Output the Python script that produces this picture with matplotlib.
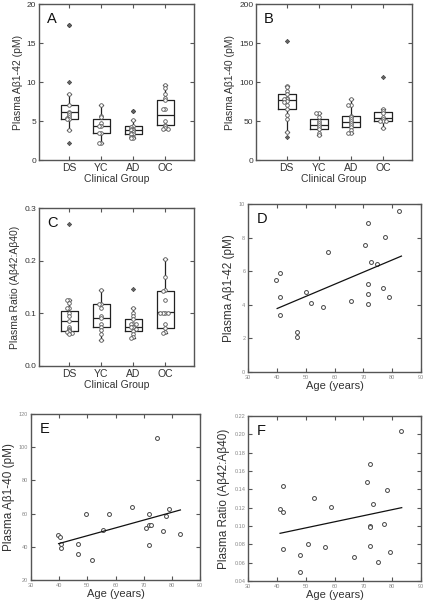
from typing import List
import matplotlib
matplotlib.use("Agg")
import matplotlib.pyplot as plt

plt.rcParams["font.family"] = ["Liberation Sans", "DejaVu Sans"]

groups = ["DS", "YC", "AD", "OC"]

# panel A: Abeta1-42 by group (box stats + individual points)
a_q1 = [5.3, 3.5, 3.3, 4.5]
a_med = [6.1, 4.4, 3.9, 5.8]
a_q3 = [7.1, 5.3, 4.3, 7.7]
a_lo = [3.9, 2.2, 2.8, 4.0]
a_hi = [8.5, 7.1, 5.1, 9.6]
a_fliers = [[2.2, 10.0, 17.3, 17.3], [], [6.3, 6.3], []]
a_points = [
    [8.5, 7.0, 6.2, 6.0, 5.8, 5.5, 5.4, 5.3, 5.3, 3.8],
    [7.1, 5.7, 5.5, 4.8, 4.4, 4.4, 3.5, 3.5, 2.2, 2.2],
    [5.1, 4.3, 4.2, 4.0, 4.0, 3.8, 3.8, 3.6, 3.5, 3.3, 3.3, 3.0, 2.9, 2.8, 2.8],
    [9.6, 9.2, 8.5, 7.9, 7.7, 6.5, 6.5, 5.0, 4.5, 4.3, 4.1, 4.0, 4.0],
]

# panel B: Abeta1-40 by group
b_q1 = [66, 40, 42, 50]
b_med = [77, 45, 49, 54]
b_q3 = [85, 52, 57, 61]
b_lo = [36, 32, 35, 41]
b_hi = [95, 60, 78, 65]
b_fliers = [[29, 153], [], [], [106]]
b_points = [
    [95, 93, 88, 85, 80, 78, 78, 76, 74, 70, 65, 58, 52, 36],
    [60, 60, 55, 50, 48, 45, 42, 40, 35, 32],
    [78, 70, 70, 57, 55, 52, 50, 48, 45, 42, 38, 35, 35],
    [65, 63, 60, 55, 52, 50, 50, 50, 41],
]

# panel C: ratio by group
c_q1 = [0.067, 0.074, 0.066, 0.073]
c_med = [0.085, 0.092, 0.074, 0.102]
c_q3 = [0.104, 0.118, 0.090, 0.143]
c_lo = [0.060, 0.049, 0.054, 0.062]
c_hi = [0.125, 0.144, 0.111, 0.203]
c_fliers = [[0.27], [], [0.146], []]
c_points = [
    [0.125, 0.125, 0.12, 0.11, 0.11, 0.10, 0.095, 0.085, 0.075, 0.07, 0.068, 0.066, 0.064, 0.062, 0.060],
    [0.144, 0.118, 0.118, 0.11, 0.095, 0.092, 0.08, 0.075, 0.068, 0.06, 0.049],
    [0.111, 0.10, 0.095, 0.09, 0.08, 0.08, 0.08, 0.074, 0.074, 0.07, 0.066, 0.06, 0.055, 0.054],
    [0.203, 0.17, 0.145, 0.143, 0.125, 0.1, 0.1, 0.1, 0.1, 0.08, 0.073, 0.065, 0.062],
]

# panel D: age vs Abeta1-42
d_age = [39.8, 41.0, 41.0, 41.0, 46.9, 46.9, 50.0, 52.0, 56.0, 57.7, 65.7,
         70.7, 71.7, 71.7, 71.7, 71.7, 72.7, 74.7, 76.8, 77.6, 78.8, 82.5]
d_val = [5.47, 5.88, 4.45, 3.38, 2.41, 2.07, 4.79, 4.12, 3.84, 7.16, 4.25,
         7.57, 8.89, 5.21, 4.65, 4.02, 6.54, 6.42, 4.99, 8.03, 4.49, 9.56]
d_fit_x = [40.1, 83.2]
d_fit_y = [3.78, 6.9]

# panel E: age vs Abeta1-40
e_age = [39.7, 40.4, 40.7, 40.7, 46.7, 46.7, 49.7, 51.7, 55.7, 57.8, 65.8,
         70.7, 71.7, 71.7, 72.6, 71.7, 74.6, 76.8, 77.8, 78.8, 82.9]
e_val = [47.1, 45.7, 41.7, 39.3, 41.7, 35.7, 59.8, 32.0, 49.9, 59.8, 64.2,
         51.5, 59.8, 53.1, 53.1, 40.9, 105.7, 49.7, 58.4, 62.8, 47.5]
e_fit_x = [39.8, 83.0]
e_fit_y = [41.9, 62.2]

# panel F: age vs ratio
f_age = [41.1, 42.0, 42.0, 42.0, 47.9, 47.9, 50.9, 52.8, 56.8, 58.7, 66.6,
         71.3, 72.3, 72.3, 72.3, 72.3, 73.4, 75.2, 77.2, 78.1, 79.2, 83.1]
f_val = [0.1185, 0.1153, 0.144, 0.0753, 0.068, 0.0498, 0.080, 0.1305, 0.0775, 0.1207, 0.0665,
         0.148, 0.168, 0.100, 0.099, 0.078, 0.124, 0.061, 0.102, 0.139, 0.072, 0.204]
f_fit_x = [41.1, 83.3]
f_fit_y = [0.092, 0.120]

FRAME = "#555555"
TEXT = "#333333"


def spread(values: List[float], step: float) -> List[float]:
    # side-by-side offsets for near-equal values
    offsets: List[float] = []
    seen = {}
    for v in values:
        key = round(v / step)
        n = seen.get(key, 0)
        seen[key] = n + 1
        offsets.append((-1) ** n * 0.09 * ((n + 1) // 2))
    return offsets


def style_axes(ax, tick_size: float, tick_color: str):
    for s in ax.spines.values():
        s.set_color(FRAME)
        s.set_linewidth(1.0)
    ax.tick_params(direction="in", top=True, right=True, length=3,
                   width=0.8, color=FRAME, labelsize=tick_size,
                   labelcolor=tick_color, pad=2)


def box_panel(ax, q1, med, q3, lo, hi, fliers, points, ylim, yticks, yfmt,
              ylabel, letter, step):
    stats = []
    for i in range(len(groups)):
        stats.append(dict(q1=q1[i], med=med[i], q3=q3[i], whislo=lo[i],
                          whishi=hi[i], fliers=fliers[i], label=groups[i]))
    ax.bxp(stats, positions=[1, 2, 3, 4], widths=0.55, showfliers=True,
           boxprops=dict(color="#222222", linewidth=0.9),
           medianprops=dict(color="#222222", linewidth=0.9),
           whiskerprops=dict(color="#222222", linewidth=0.9),
           capprops=dict(color="#222222", linewidth=0.9),
           capwidths=0.12,
           flierprops=dict(marker="D", markersize=2.2, markerfacecolor="#666666",
                           markeredgecolor="#444444", markeredgewidth=0.5))
    for i, pts in enumerate(points):
        offs = spread(pts, step)
        ax.plot([i + 1 + o for o in offs], pts, "o", markersize=2.6,
                markerfacecolor="white", markeredgecolor="#555555",
                markeredgewidth=0.6, zorder=3)
    ax.set_xlim(0.05, 4.9)
    ax.set_ylim(*ylim)
    ax.set_yticks(yticks)
    ax.set_yticklabels([yfmt.format(t) for t in yticks])
    ax.set_xticks([1, 2, 3, 4])
    ax.set_xticklabels(groups)
    style_axes(ax, 6, TEXT)
    for lab in ax.get_xticklabels():
        lab.set_fontsize(7.5)
    ax.set_xlabel("Clinical Group", fontsize=7.5, color=TEXT, labelpad=1)
    ax.set_ylabel(ylabel, fontsize=7.5, color=TEXT, labelpad=3)
    ax.text(0.05, 0.95, letter, transform=ax.transAxes, fontsize=10.5,
            va="top", ha="left", color="#111111")


def scatter_panel(ax, x, y, fx, fy, ylim, yticks, yfmt, ylabel, letter):
    ax.plot(x, y, "o", markersize=2.8, markerfacecolor="white",
            markeredgecolor="#444444", markeredgewidth=0.7)
    ax.plot(fx, fy, color="#111111", linewidth=0.9)
    ax.set_xlim(30, 90)
    ax.set_xticks([30, 40, 50, 60, 70, 80, 90])
    ax.set_ylim(*ylim)
    ax.set_yticks(yticks)
    ax.set_yticklabels([yfmt.format(t) for t in yticks])
    style_axes(ax, 4, "#888888")
    ax.set_xlabel("Age (years)", fontsize=8, color=TEXT, labelpad=1)
    ax.set_ylabel(ylabel, fontsize=8.5, color=TEXT, labelpad=3)
    ax.text(0.05, 0.95, letter, transform=ax.transAxes, fontsize=10.5,
            va="top", ha="left", color="#111111")


fig = plt.figure(figsize=(4.24, 6.0), dpi=100)

ax_a = fig.add_axes([0.092, 0.7333, 0.366, 0.26])
ax_b = fig.add_axes([0.604, 0.7333, 0.368, 0.26])
ax_c = fig.add_axes([0.092, 0.39, 0.366, 0.263])
ax_d = fig.add_axes([0.585, 0.38, 0.408, 0.28])
ax_e = fig.add_axes([0.073, 0.0333, 0.399, 0.2767])
ax_f = fig.add_axes([0.585, 0.0317, 0.408, 0.275])

box_panel(ax_a, a_q1, a_med, a_q3, a_lo, a_hi, a_fliers, a_points,
          (0, 20), [0, 5, 10, 15, 20], "{:g}", "Plasma A\u03b21-42 (pM)", "A", 0.25)
box_panel(ax_b, b_q1, b_med, b_q3, b_lo, b_hi, b_fliers, b_points,
          (0, 200), [0, 50, 100, 150, 200], "{:g}", "Plasma A\u03b21-40 (pM)", "B", 2.5)
box_panel(ax_c, c_q1, c_med, c_q3, c_lo, c_hi, c_fliers, c_points,
          (0, 0.3), [0.0, 0.1, 0.2, 0.3], "{:.1f}",
          "Plasma Ratio (A\u03b242:A\u03b240)", "C", 0.004)

scatter_panel(ax_d, d_age, d_val, d_fit_x, d_fit_y, (0, 10),
              [0, 2, 4, 6, 8, 10], "{:g}", "Plasma A\u03b21-42 (pM)", "D")
scatter_panel(ax_e, e_age, e_val, e_fit_x, e_fit_y, (20, 120),
              [20, 40, 60, 80, 100, 120], "{:g}", "Plasma A\u03b21-40 (pM)", "E")
scatter_panel(ax_f, f_age, f_val, f_fit_x, f_fit_y, (0.04, 0.22),
              [0.04, 0.06, 0.08, 0.10, 0.12, 0.14, 0.16, 0.18, 0.20, 0.22], "{:.2f}",
              "Plasma Ratio (A\u03b242:A\u03b240)", "F")

fig.savefig("out.png", dpi=100)
